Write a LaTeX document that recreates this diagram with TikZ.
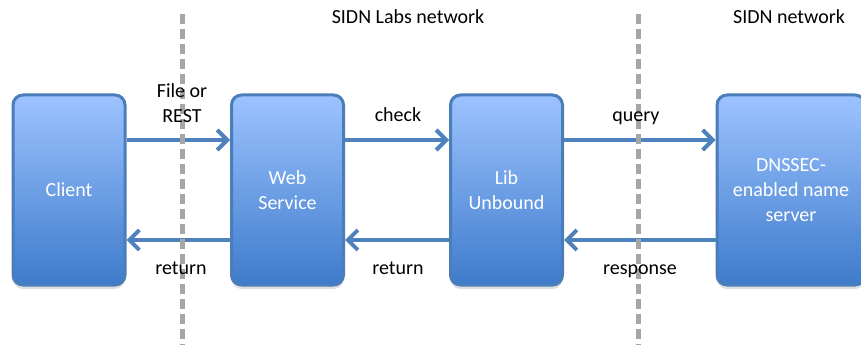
\documentclass[tikz,border=0pt]{standalone}
\usepackage{fontspec}
\setmainfont{Carlito}
\usetikzlibrary{arrows.meta,positioning,shadows}
\definecolor{boxtop}{HTML}{9DC3FF}
\definecolor{boxbottom}{HTML}{3E7BCB}
\definecolor{boxline}{HTML}{4A7EBB}
\definecolor{flow}{HTML}{4F81BD}
\definecolor{border}{HTML}{A6A6A6}
\tikzset{%
    >={Straight Barb[length=10pt,width=20pt,line width=4pt]},
    station/.style={rounded corners=10pt, draw=boxline, line width=3pt,
        top color=boxtop, bottom color=boxbottom, text=white,
        minimum width=112pt, minimum height=190pt, inner sep=0pt, align=center,
        font=\fontsize{20}{25}\selectfont,
        drop shadow={shadow xshift=0pt, shadow yshift=-4pt, opacity=0.25}},
    flowline/.style={draw=flow, line width=4pt, ->},
    flowlabel/.style={text=black, align=center, font=\fontsize{20}{25}\selectfont},
    netborder/.style={draw=border, line width=5pt, dash pattern=on 10pt off 5pt}
}

\begin{document}
\begin{tikzpicture}[x=1pt,y=-1pt]
        \useasboundingbox (0,0) rectangle (861,347);

        \node[station] (client) at (69,190) {Client};
        \node[station] (web) at (287.5,190) {Web\\Service};
        \node[station] (lib) at (506.5,190) {Lib\\Unbound};
        \node[station, minimum width=148pt] (dns) at (791,190) {DNSSEC-\\enabled name\\server};

        \draw[flowline] ([yshift=50pt]client.east) -- ([yshift=50pt]web.west);
        \draw[flowline] ([yshift=50pt]web.east) -- ([yshift=50pt]lib.west);
        \draw[flowline] ([yshift=50pt]lib.east) -- ([yshift=50pt]dns.west);
        \draw[flowline] ([yshift=-50pt]web.west) -- ([yshift=-50pt]client.east);
        \draw[flowline] ([yshift=-50pt]lib.west) -- ([yshift=-50pt]web.east);
        \draw[flowline] ([yshift=-50pt]dns.west) -- ([yshift=-50pt]lib.east);

        % network borders
        \draw[netborder] (182,14) -- (182,345);
        \draw[netborder] (638,14) -- (638,345);

        \node[flowlabel] (labsnet) at (408,17) {SIDN Labs network};
        \node[flowlabel] (sidnnet) at (789,17) {SIDN network};

        \node[flowlabel] (file) at (182,103) {File or\\REST};
        \node[flowlabel, anchor=base] (check) at (398,122) {check};
        \node[flowlabel, anchor=base] (query) at (636,122) {query};
        \node[flowlabel, anchor=base] (ret1) at (181,274) {return};
        \node[flowlabel, anchor=base] (ret2) at (398,274) {return};
        \node[flowlabel, anchor=base] (resp) at (640,274) {response};
    \end{tikzpicture}
\end{document}
